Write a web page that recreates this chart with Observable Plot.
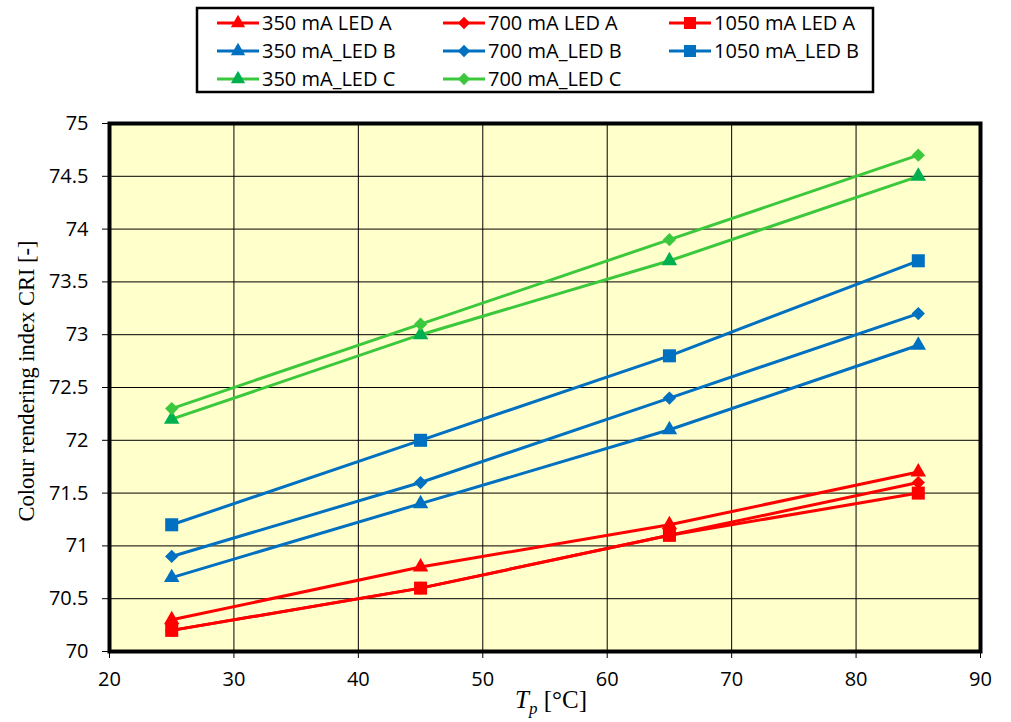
<!DOCTYPE html>
<html><head><meta charset="utf-8">
<script src="https://cdn.jsdelivr.net/npm/d3@7"></script>
<script src="https://cdn.jsdelivr.net/npm/@observablehq/plot@0.6"></script>
<style>
body{margin:0;background:#fff}
#wrap{position:relative;width:1011px;height:722px}
#wrap svg{position:absolute;left:0;top:0}
</style>
</head><body><div id="wrap"></div>
<script>
// data
const temps = [25, 45, 65, 85];
const seriesNames = ["350 mA LED A","700 mA LED A","1050 mA LED A","350 mA_LED B","700 mA_LED B","1050 mA_LED B","350 mA_LED C","700 mA_LED C"];
const ledA350 = [70.3, 70.8, 71.2, 71.7];
const ledA700 = [70.2, 70.6, 71.1, 71.6];
const ledA1050 = [70.2, 70.6, 71.1, 71.5];
const ledB350 = [70.7, 71.4, 72.1, 72.9];
const ledB700 = [70.9, 71.6, 72.4, 73.2];
const ledB1050 = [71.2, 72.0, 72.8, 73.7];
const ledC350 = [72.2, 73.0, 73.7, 74.5];
const ledC700 = [72.3, 73.1, 73.9, 74.7];
const xTicks = [20, 30, 40, 50, 60, 70, 80, 90];
const yTicks = [70, 70.5, 71, 71.5, 72, 72.5, 73, 73.5, 74, 74.5, 75];

const RED = "#FF0000", BLUE = "#0070C0", GREEN = "#3CC83C", GREEN_T = "#00B050";
const styles = [
  {line: RED, fill: RED, sym: "triangle2", r: 7.4},
  {line: RED, fill: RED, sym: "diamond2", r: 6},
  {line: RED, fill: RED, sym: "square2", r: 8.3},
  {line: BLUE, fill: BLUE, sym: "triangle2", r: 7.4},
  {line: BLUE, fill: BLUE, sym: "diamond2", r: 6},
  {line: BLUE, fill: BLUE, sym: "square2", r: 8.3},
  {line: GREEN, fill: GREEN_T, sym: "triangle2", r: 7.4},
  {line: GREEN, fill: GREEN, sym: "diamond2", r: 6}
];
const allValues = [ledA350, ledA700, ledA1050, ledB350, ledB700, ledB1050, ledC350, ledC700];
const series = seriesNames.map((name, i) => ({name, style: styles[i], data: temps.map((t, j) => ({t, v: allValues[i][j]}))}));

const SANS = "'Open Sans', 'Liberation Sans', sans-serif";
const SERIF = "'Liberation Serif', 'DejaVu Serif', serif";
const W = 1011, H = 722;
const marks = [
  Plot.frame({fill: "#FFFFCC"}),
  Plot.gridX(xTicks, {stroke: "#000", strokeOpacity: 1, strokeWidth: 1}),
  Plot.gridY(yTicks, {stroke: "#000", strokeOpacity: 1, strokeWidth: 1}),
  Plot.axisX(xTicks, {tickSize: 7, tickPadding: 13, fontSize: 20, stroke: "#000", fill: "#000", label: null}),
  Plot.axisY(yTicks, {tickSize: 7, tickPadding: 14, fontSize: 20, tickFormat: d => String(d), stroke: "#000", fill: "#000", label: null})
];
for (const s of series) {
  marks.push(Plot.line(s.data, {x: "t", y: "v", stroke: s.style.line, strokeWidth: 3}));
}
for (const s of series) {
  marks.push(Plot.dot(s.data, {x: "t", y: "v", symbol: () => s.style.sym, r: s.style.r, fill: s.style.fill, stroke: "none"}));
}
marks.push(Plot.frame({stroke: "#000", strokeWidth: 4}));

const chart = Plot.plot({
  width: W, height: H,
  marginLeft: 109, marginRight: 31, marginTop: 123, marginBottom: 71,
  style: {fontFamily: SANS, background: "transparent", color: "#000"},
  x: {domain: [20, 90]},
  y: {domain: [70, 75]},
  symbol: {type: "identity"},
  marks
});
document.getElementById("wrap").appendChild(chart);

const svg = d3.select(chart);
// axis titles
const xl = svg.append("text").attr("x", 551).attr("y", 708).attr("text-anchor", "middle")
  .attr("font-family", SERIF).attr("font-size", 25).attr("fill", "#000");
xl.append("tspan").attr("font-style", "italic").text("T");
xl.append("tspan").attr("font-style", "italic").attr("font-size", 17).attr("dy", 6).text("p");
xl.append("tspan").attr("dy", -6).text(" [°C]");
svg.append("text").attr("transform", "translate(34,381) rotate(-90)").attr("text-anchor", "middle")
  .attr("font-family", SERIF).attr("font-size", 22.5).attr("fill", "#000")
  .text("Colour rendering index CRI [-]");

// legend
const lg = svg.append("g");
lg.append("rect").attr("x", 197).attr("y", 8).attr("width", 676).attr("height", 84)
  .attr("fill", "#fff").attr("stroke", "#000").attr("stroke-width", 2.5);
const colX = [217, 443, 669];
const rowY = [23, 51, 79];
const symMap = {triangle2: d3.symbolTriangle2, diamond2: d3.symbolDiamond2, square2: d3.symbolSquare2};
series.forEach((s, i) => {
  const cx = colX[i % 3], cy = rowY[Math.floor(i / 3)];
  lg.append("line").attr("x1", cx).attr("x2", cx + 42).attr("y1", cy).attr("y2", cy)
    .attr("stroke", s.style.line).attr("stroke-width", 3);
  lg.append("path").attr("d", d3.symbol(symMap[s.style.sym], s.style.r * s.style.r * Math.PI * 0.85)())
    .attr("transform", `translate(${cx + 21},${cy})`).attr("fill", s.style.fill);
  lg.append("text").attr("x", cx + 45).attr("y", cy + 7).attr("font-size", 20).attr("text-anchor", "start")
    .attr("font-family", SANS).attr("fill", "#000").text(s.name);
});
</script>
</body></html>
